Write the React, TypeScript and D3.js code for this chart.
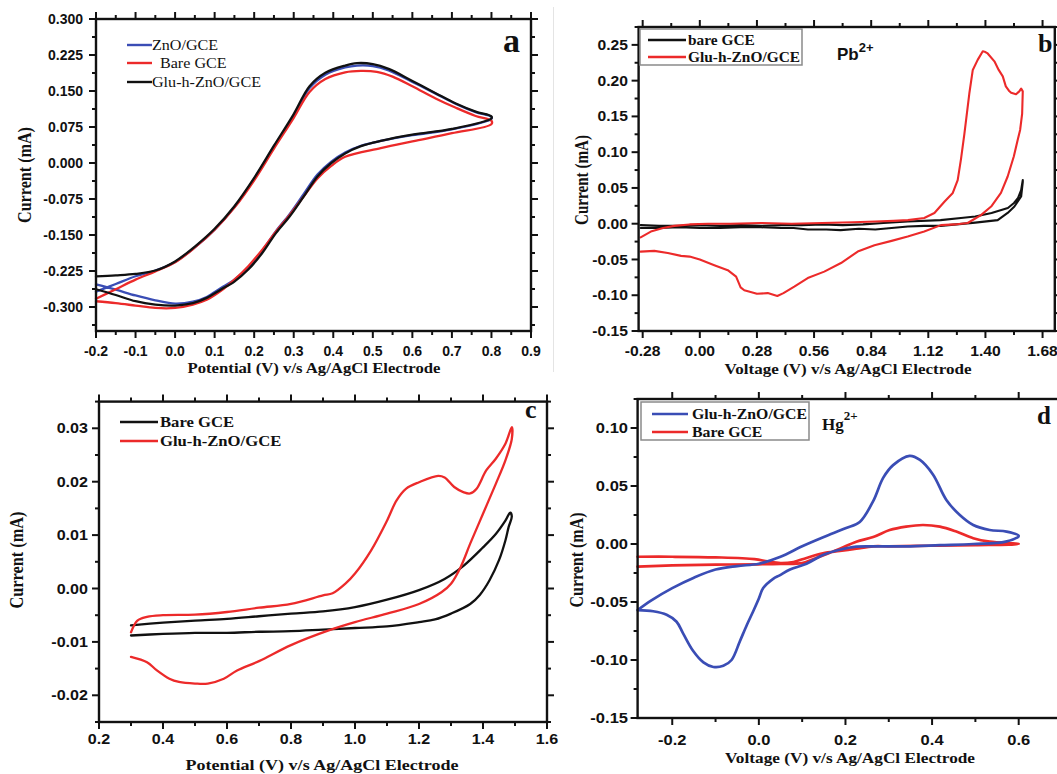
import React from 'react';
import * as d3 from 'd3';

type P = [number, number];

// ---------------- Panel a ----------------
const aXTicks = [-0.2, -0.1, 0, 0.1, 0.2, 0.3, 0.4, 0.5, 0.6, 0.7, 0.8, 0.9];
const aXLabels = ['-0.2', '-0.1', '0.0', '0.1', '0.2', '0.3', '0.4', '0.5', '0.6', '0.7', '0.8', '0.9'];
const aYTicks = [-0.3, -0.225, -0.15, -0.075, 0, 0.075, 0.15, 0.225, 0.3];
const aYLabels = ['-0.300', '-0.225', '-0.150', '-0.075', '0.000', '0.075', '0.150', '0.225', '0.300'];

const aZnO: P[] = [
  [-0.2, -0.268], [-0.15, -0.252], [-0.1, -0.236], [-0.05, -0.224], [0.0, -0.206], [0.05, -0.176], [0.1, -0.139],
  [0.15, -0.092], [0.2, -0.033], [0.25, 0.034], [0.3, 0.099], [0.34, 0.156], [0.38, 0.184], [0.43, 0.199],
  [0.46, 0.203], [0.5, 0.202], [0.54, 0.193], [0.6, 0.169], [0.66, 0.144], [0.71, 0.123], [0.76, 0.106], [0.8, 0.096],
  [0.8, 0.092], [0.7, 0.070], [0.6, 0.058], [0.52, 0.046], [0.47, 0.036], [0.43, 0.022], [0.395, 0.003],
  [0.36, -0.024], [0.325, -0.065], [0.29, -0.106], [0.255, -0.142], [0.22, -0.183], [0.185, -0.218], [0.15, -0.243],
  [0.115, -0.261], [0.08, -0.279], [0.045, -0.289], [0.0, -0.293], [-0.05, -0.286], [-0.1, -0.276], [-0.15, -0.264],
  [-0.2, -0.253],
];
const aBare: P[] = [
  [-0.2, -0.283], [-0.15, -0.263], [-0.1, -0.243], [-0.05, -0.226], [0.0, -0.207], [0.05, -0.176], [0.1, -0.139],
  [0.15, -0.093], [0.2, -0.036], [0.25, 0.030], [0.3, 0.094], [0.34, 0.148], [0.38, 0.175], [0.43, 0.189],
  [0.47, 0.192], [0.51, 0.190], [0.55, 0.180], [0.6, 0.160], [0.66, 0.134], [0.71, 0.115], [0.76, 0.098], [0.8, 0.088],
  [0.8, 0.081], [0.7, 0.062], [0.6, 0.045], [0.52, 0.031], [0.43, 0.013], [0.395, -0.006], [0.36, -0.032],
  [0.325, -0.070], [0.29, -0.108], [0.255, -0.143], [0.22, -0.181], [0.185, -0.215], [0.15, -0.243], [0.115, -0.267],
  [0.08, -0.285], [0.045, -0.295], [0.0, -0.302], [-0.05, -0.302], [-0.1, -0.297], [-0.15, -0.292], [-0.2, -0.288],
];
const aGlu: P[] = [
  [-0.2, -0.236], [-0.15, -0.234], [-0.1, -0.231], [-0.05, -0.224], [0.0, -0.205], [0.05, -0.174], [0.1, -0.137],
  [0.15, -0.090], [0.2, -0.031], [0.25, 0.036], [0.3, 0.102], [0.34, 0.160], [0.38, 0.188], [0.43, 0.203],
  [0.46, 0.208], [0.5, 0.206], [0.54, 0.196], [0.6, 0.171], [0.66, 0.145], [0.71, 0.124], [0.76, 0.107], [0.8, 0.097],
  [0.8, 0.093], [0.7, 0.071], [0.6, 0.059], [0.52, 0.046], [0.47, 0.035], [0.43, 0.020], [0.395, 0.0],
  [0.36, -0.028], [0.325, -0.070], [0.29, -0.111], [0.255, -0.146], [0.22, -0.188], [0.185, -0.222], [0.15, -0.247],
  [0.115, -0.264], [0.08, -0.281], [0.045, -0.292], [0.0, -0.297], [-0.05, -0.295], [-0.1, -0.288], [-0.15, -0.275],
  [-0.2, -0.263],
];

// ---------------- Panel b ----------------
const bXTicks = [-0.28, 0, 0.28, 0.56, 0.84, 1.12, 1.4, 1.68];
const bXLabels = ['-0.28', '0.00', '0.28', '0.56', '0.84', '1.12', '1.40', '1.68'];
const bYTicks = [-0.15, -0.1, -0.05, 0, 0.05, 0.1, 0.15, 0.2, 0.25];
const bYLabels = ['-0.15', '-0.10', '-0.05', '0.00', '0.05', '0.10', '0.15', '0.20', '0.25'];

const bBare: P[] = [
  [-0.29, -0.002], [-0.2, -0.003], [-0.1, -0.003], [0.0, -0.002], [0.1, -0.003], [0.2, -0.002], [0.3, -0.003],
  [0.4, -0.002], [0.5, -0.002], [0.6, -0.001], [0.7, -0.002], [0.8, -0.001], [0.9, 0.001], [1.02, 0.003],
  [1.18, 0.005], [1.28, 0.008], [1.35, 0.010], [1.43, 0.015], [1.51, 0.022], [1.54, 0.029], [1.56, 0.036],
  [1.575, 0.047], [1.583, 0.061],
  [1.583, 0.058], [1.575, 0.038], [1.542, 0.024], [1.509, 0.015], [1.46, 0.005], [1.35, 0.0015], [1.18, -0.003],
  [1.1, -0.003], [1.02, -0.004], [0.94, -0.006], [0.86, -0.008], [0.78, -0.007], [0.69, -0.009], [0.62, -0.008],
  [0.53, -0.008], [0.46, -0.006], [0.4, -0.006], [0.3, -0.005], [0.2, -0.005], [0.1, -0.006], [0.0, -0.006],
  [-0.1, -0.005], [-0.2, -0.006], [-0.29, -0.006],
];
const bGlu: P[] = [
  [-0.29, -0.019], [-0.24, -0.011], [-0.18, -0.006], [-0.125, -0.003], [-0.05, -0.001], [0.04, 0.0], [0.15, 0.0],
  [0.3, 0.001], [0.45, 0.0], [0.6, 0.001], [0.75, 0.002], [0.86, 0.003], [0.95, 0.004], [1.02, 0.005], [1.1, 0.008],
  [1.15, 0.015], [1.2, 0.031], [1.24, 0.043], [1.264, 0.061], [1.28, 0.09], [1.297, 0.126], [1.321, 0.182],
  [1.338, 0.215], [1.362, 0.229], [1.387, 0.241], [1.4, 0.24], [1.411, 0.238], [1.444, 0.227], [1.465, 0.215],
  [1.485, 0.206], [1.5, 0.192], [1.515, 0.186], [1.526, 0.183], [1.55, 0.181], [1.566, 0.185], [1.575, 0.189],
  [1.583, 0.185],
  [1.58, 0.154], [1.57, 0.131], [1.558, 0.117], [1.539, 0.094], [1.509, 0.066], [1.476, 0.043], [1.428, 0.024],
  [1.378, 0.012], [1.313, 0.001], [1.25, -0.001], [1.182, -0.002], [1.1, -0.011], [1.019, -0.018], [0.94, -0.024],
  [0.856, -0.030], [0.774, -0.039], [0.692, -0.055], [0.61, -0.067], [0.529, -0.076], [0.463, -0.088],
  [0.41, -0.097], [0.38, -0.101], [0.333, -0.097], [0.28, -0.098], [0.218, -0.093], [0.2, -0.089], [0.178, -0.074],
  [0.137, -0.065], [0.071, -0.058], [0.0, -0.050], [-0.05, -0.046], [-0.092, -0.045], [-0.157, -0.041],
  [-0.223, -0.038], [-0.29, -0.039],
];

// ---------------- Panel c ----------------
const cXTicks = [0.2, 0.4, 0.6, 0.8, 1.0, 1.2, 1.4, 1.6];
const cXLabels = ['0.2', '0.4', '0.6', '0.8', '1.0', '1.2', '1.4', '1.6'];
const cYTicks = [-0.02, -0.01, 0, 0.01, 0.02, 0.03];
const cYLabels = ['-0.02', '-0.01', '0.00', '0.01', '0.02', '0.03'];

const cBare: P[] = [
  [0.3, -0.0069], [0.4, -0.0064], [0.5, -0.006], [0.6, -0.0057], [0.7, -0.0052], [0.8, -0.0047], [0.9, -0.0043],
  [1.0, -0.0035], [1.1, -0.0021], [1.2, -0.0003], [1.28, 0.0018], [1.34, 0.0043], [1.4, 0.0077], [1.44, 0.0102],
  [1.47, 0.0127], [1.485, 0.0142],
  [1.49, 0.0135], [1.48, 0.0115], [1.47, 0.009], [1.45, 0.0053], [1.42, 0.0015], [1.39, -0.0012], [1.36, -0.0029],
  [1.3, -0.0047], [1.25, -0.0058], [1.2, -0.0063], [1.1, -0.0071], [1.0, -0.0074], [0.9, -0.0077], [0.8, -0.008],
  [0.7, -0.0081], [0.6, -0.0083], [0.5, -0.0083], [0.4, -0.0085], [0.3, -0.0088],
];
const cGlu: P[] = [
  [0.3, -0.0082], [0.32, -0.006], [0.35, -0.0053], [0.4, -0.005], [0.5, -0.0049], [0.6, -0.0044], [0.7, -0.0036],
  [0.8, -0.0029], [0.9, -0.0013], [0.93, -0.0009], [0.97, 0.0009], [1.0, 0.0028], [1.05, 0.0071], [1.1, 0.0127],
  [1.13, 0.0165], [1.16, 0.0187], [1.2, 0.0199], [1.26, 0.0211], [1.28, 0.0208], [1.31, 0.019], [1.34, 0.018],
  [1.36, 0.0178], [1.38, 0.0187], [1.41, 0.0221], [1.44, 0.0243], [1.47, 0.0271], [1.49, 0.0302],
  [1.49, 0.028], [1.47, 0.024], [1.44, 0.0196], [1.4, 0.014], [1.36, 0.0084], [1.33, 0.004], [1.3, 0.0009],
  [1.27, -0.0007], [1.2, -0.0029], [1.1, -0.0047], [1.0, -0.0063], [0.92, -0.0078], [0.8, -0.0106], [0.7, -0.0136],
  [0.63, -0.0154], [0.59, -0.0169], [0.54, -0.0178], [0.5, -0.0178], [0.45, -0.0175], [0.42, -0.0169],
  [0.38, -0.0153], [0.35, -0.0138], [0.3, -0.0128],
];

// ---------------- Panel d ----------------
const dXTicks = [-0.2, 0, 0.2, 0.4, 0.6];
const dXLabels = ['-0.2', '0.0', '0.2', '0.4', '0.6'];
const dYTicks = [-0.15, -0.1, -0.05, 0, 0.05, 0.1];
const dYLabels = ['-0.15', '-0.10', '-0.05', '0.00', '0.05', '0.10'];

const dGlu: P[] = [
  [-0.28, -0.057], [-0.25, -0.049], [-0.2, -0.038], [-0.15, -0.029], [-0.1, -0.022], [-0.05, -0.019], [0.0, -0.017],
  [0.05, -0.011], [0.1, -0.002], [0.15, 0.006], [0.2, 0.0135], [0.233, 0.019], [0.264, 0.037], [0.287, 0.057],
  [0.31, 0.068], [0.348, 0.076], [0.372, 0.0725], [0.402, 0.06], [0.433, 0.038], [0.464, 0.025], [0.495, 0.0164],
  [0.533, 0.0121], [0.572, 0.0107], [0.6, 0.007],
  [0.57, 0.002], [0.495, 0.0], [0.418, -0.001], [0.34, -0.002], [0.264, -0.002], [0.225, -0.0023], [0.187, -0.005],
  [0.148, -0.0095], [0.11, -0.017], [0.072, -0.022], [0.048, -0.027], [0.033, -0.030], [0.01, -0.038],
  [0.0, -0.047], [-0.013, -0.058], [-0.028, -0.070], [-0.044, -0.084], [-0.063, -0.100], [-0.082, -0.105],
  [-0.105, -0.106], [-0.128, -0.102], [-0.152, -0.092], [-0.175, -0.077], [-0.19, -0.067], [-0.213, -0.061],
  [-0.244, -0.058], [-0.28, -0.057],
];
const dBare: P[] = [
  [-0.28, -0.0195], [-0.2, -0.0185], [-0.1, -0.0178], [0.0, -0.0175], [0.05, -0.0172], [0.1, -0.0165],
  [0.133, -0.012], [0.187, -0.004], [0.225, 0.002], [0.264, 0.006], [0.302, 0.012], [0.34, 0.015], [0.379, 0.0164],
  [0.418, 0.015], [0.456, 0.0107], [0.495, 0.005], [0.533, 0.002], [0.6, 0.0],
  [0.5, -0.001], [0.4, -0.0015], [0.3, -0.002], [0.264, -0.002], [0.225, -0.004], [0.187, -0.006],
  [0.148, -0.008], [0.11, -0.012], [0.08, -0.0155], [0.05, -0.0165], [0.02, -0.015], [-0.01, -0.013],
  [-0.1, -0.0115], [-0.2, -0.011], [-0.28, -0.011],
];

// ---------------- styles ----------------
const BLUE = '#3a4db5';
const RED = '#ec2a2a';
const BLACK = '#111111';
const SANS = '"Liberation Sans", Arial, sans-serif';
const SERIF = '"Liberation Serif", "Times New Roman", serif';

interface Series { data: P[]; color: string; width: number; }
interface LegendItem { label: string; color: string; }
interface Cfg {
  left: number; right: number; top: number; bottom: number;
  xDomain: [number, number]; yDomain: [number, number];
  xTicks: number[]; xLabels: string[]; yTicks: number[]; yLabels: string[];
  series: Series[]; curve: d3.CurveFactory;
  tickSize: number; tickSx: number; xLabelBase: number; yLabelRight: number;
  xTitle: string; xTitleX: number; xTitleY: number; xTitleLen: number;
  yTitleX: number; yTitleY: number; yTitleLen: number;
  legend: LegendItem[]; legX1: number; legX2: number; legTextX: number[]; legRows: number[];
  legSize: number; legSx: number; legWeight: string;
  legBox?: [number, number, number, number];
  tag: string; tagX: number; tagY: number; tagSize: number;
}

function minors(major: number[], dom: [number, number]) {
  const step = major[1] - major[0];
  const res: number[] = [];
  for (let i = 0; i < major.length - 1; i++) res.push((major[i] + major[i + 1]) / 2);
  const lo = major[0] - step / 2;
  if (lo >= dom[0] - 1e-9) res.push(lo);
  const hi = major[major.length - 1] + step / 2;
  if (hi <= dom[1] + 1e-9) res.push(hi);
  return res;
}

function Panel({ c }: { c: Cfg }) {
  const x = d3.scaleLinear().domain(c.xDomain).range([c.left, c.right]);
  const y = d3.scaleLinear().domain(c.yDomain).range([c.bottom, c.top]);
  const line = d3.line<P>().x(d => x(d[0])).y(d => y(d[1])).curve(c.curve);
  const xm = minors(c.xTicks, c.xDomain);
  const ym = minors(c.yTicks, c.yDomain);
  const M = 7, m = 4;
  const tickStyle = { stroke: BLACK, strokeWidth: 2 };
  return (
    <g>
      {c.series.map((s, i) => (
        <path key={i} d={line(s.data) || ''} fill="none" stroke={s.color} strokeWidth={s.width}
          strokeLinejoin="round" strokeLinecap="round" />
      ))}
      {c.xTicks.map((t, i) => (
        <g key={'xt' + i}>
          <line x1={x(t)} x2={x(t)} y1={c.bottom} y2={c.bottom + M} {...tickStyle} />
          <line x1={x(t)} x2={x(t)} y1={c.top} y2={c.top - M} {...tickStyle} />
        </g>
      ))}
      {xm.map((t, i) => (
        <g key={'xm' + i}>
          <line x1={x(t)} x2={x(t)} y1={c.bottom} y2={c.bottom + m} {...tickStyle} />
          <line x1={x(t)} x2={x(t)} y1={c.top} y2={c.top - m} {...tickStyle} />
        </g>
      ))}
      {c.yTicks.map((t, i) => (
        <g key={'yt' + i}>
          <line x1={c.left} x2={c.left - M} y1={y(t)} y2={y(t)} {...tickStyle} />
          <line x1={c.right} x2={c.right + M} y1={y(t)} y2={y(t)} {...tickStyle} />
        </g>
      ))}
      {ym.map((t, i) => (
        <g key={'ym' + i}>
          <line x1={c.left} x2={c.left - m} y1={y(t)} y2={y(t)} {...tickStyle} />
          <line x1={c.right} x2={c.right + m} y1={y(t)} y2={y(t)} {...tickStyle} />
        </g>
      ))}
      <rect x={c.left} y={c.top} width={c.right - c.left} height={c.bottom - c.top}
        fill="none" stroke={BLACK} strokeWidth={2.4} />
      {c.xTicks.map((t, i) => (
        <text key={'xl' + i} transform={`translate(${x(t)},${c.xLabelBase}) scale(${c.tickSx},1)`}
          textAnchor="middle" fontFamily={SANS} fontWeight="bold" fontSize={c.tickSize} fill={BLACK}>
          {c.xLabels[i]}
        </text>
      ))}
      {c.yTicks.map((t, i) => (
        <text key={'yl' + i} transform={`translate(${c.yLabelRight},${y(t) + c.tickSize * 0.36}) scale(${c.tickSx},1)`}
          textAnchor="end" fontFamily={SANS} fontWeight="bold" fontSize={c.tickSize} fill={BLACK}>
          {c.yLabels[i]}
        </text>
      ))}
      <text x={c.xTitleX} y={c.xTitleY} textAnchor="middle" fontFamily={SERIF} fontWeight="bold" fontSize={15}
        textLength={c.xTitleLen} lengthAdjust="spacingAndGlyphs" fill={BLACK}>{c.xTitle}</text>
      <text transform={`translate(${c.yTitleX},${c.yTitleY}) scale(1.25,1) rotate(-90)`} textAnchor="middle"
        fontFamily={SERIF} fontWeight="bold" fontSize={15.5} textLength={c.yTitleLen} lengthAdjust="spacingAndGlyphs"
        fill={BLACK}>Current (mA)</text>
      {c.legBox && (
        <rect x={c.legBox[0]} y={c.legBox[1]} width={c.legBox[2] - c.legBox[0]} height={c.legBox[3] - c.legBox[1]}
          fill="none" stroke="#8a8a8a" strokeWidth={1.5} />
      )}
      {c.legend.map((l, i) => (
        <g key={'lg' + i}>
          <line x1={c.legX1} x2={c.legX2} y1={c.legRows[i]} y2={c.legRows[i]} stroke={l.color} strokeWidth={2.4} />
          <text transform={`translate(${c.legTextX[i]},${c.legRows[i] + c.legSize * 0.34}) scale(${c.legSx},1)`}
            fontFamily={SERIF} fontWeight={c.legWeight} fontSize={c.legSize} fill={BLACK}>{l.label}</text>
        </g>
      ))}
      <text x={c.tagX} y={c.tagY} fontFamily={SERIF} fontWeight="bold" fontSize={c.tagSize} fill={BLACK}>{c.tag}</text>
    </g>
  );
}

const panelA: Cfg = {
  left: 96, right: 531, top: 19, bottom: 331,
  xDomain: [-0.2, 0.9], yDomain: [-0.35, 0.3],
  xTicks: aXTicks, xLabels: aXLabels, yTicks: aYTicks, yLabels: aYLabels,
  series: [
    { data: aZnO, color: BLUE, width: 2.3 },
    { data: aBare, color: RED, width: 2.3 },
    { data: aGlu, color: BLACK, width: 2.3 },
  ],
  curve: d3.curveCatmullRom.alpha(0.5),
  tickSize: 14, tickSx: 1.0, xLabelBase: 356, yLabelRight: 83,
  xTitle: 'Potential (V) v/s Ag/AgCl Electrode', xTitleX: 314, xTitleY: 373, xTitleLen: 253,
  yTitleX: 31, yTitleY: 175, yTitleLen: 96,
  legend: [
    { label: 'ZnO/GCE', color: BLUE },
    { label: 'Bare GCE', color: RED },
    { label: 'Glu-h-ZnO/GCE', color: BLACK },
  ],
  legX1: 127, legX2: 152, legTextX: [152, 160, 152], legRows: [45, 63, 82],
  legSize: 14, legSx: 1.15, legWeight: 'normal',
  tag: 'a', tagX: 503, tagY: 52, tagSize: 34,
};

const panelB: Cfg = {
  left: 638.6, right: 1054.8, top: 27, bottom: 331,
  xDomain: [-0.3, 1.74], yDomain: [-0.15, 0.275],
  xTicks: bXTicks, xLabels: bXLabels, yTicks: bYTicks, yLabels: bYLabels,
  series: [
    { data: bBare, color: BLACK, width: 2.1 },
    { data: bGlu, color: RED, width: 2.1 },
  ],
  curve: d3.curveLinear,
  tickSize: 14, tickSx: 1.12, xLabelBase: 356, yLabelRight: 628,
  xTitle: 'Voltage (V) v/s Ag/AgCl Electrode', xTitleX: 848, xTitleY: 374, xTitleLen: 247,
  yTitleX: 588, yTitleY: 180, yTitleLen: 90,
  legend: [
    { label: 'bare GCE', color: BLACK },
    { label: 'Glu-h-ZnO/GCE', color: RED },
  ],
  legX1: 648, legX2: 686, legTextX: [688, 688], legRows: [40, 57],
  legSize: 14, legSx: 1.1, legWeight: 'bold', legBox: [640, 29, 802, 65],
  tag: 'b', tagX: 1038, tagY: 52, tagSize: 26,
};

const panelC: Cfg = {
  left: 99, right: 547, top: 401.6, bottom: 722,
  xDomain: [0.2, 1.6], yDomain: [-0.025, 0.035],
  xTicks: cXTicks, xLabels: cXLabels, yTicks: cYTicks, yLabels: cYLabels,
  series: [
    { data: cBare, color: BLACK, width: 2.3 },
    { data: cGlu, color: RED, width: 2.3 },
  ],
  curve: d3.curveCatmullRom.alpha(0.5),
  tickSize: 14, tickSx: 1.15, xLabelBase: 744, yLabelRight: 88,
  xTitle: 'Potential (V) v/s Ag/AgCl Electrode', xTitleX: 322, xTitleY: 770, xTitleLen: 273,
  yTitleX: 22.5, yTitleY: 560, yTitleLen: 97,
  legend: [
    { label: 'Bare GCE', color: BLACK },
    { label: 'Glu-h-ZnO/GCE', color: RED },
  ],
  legX1: 120, legX2: 158, legTextX: [160, 160], legRows: [422, 441],
  legSize: 14.5, legSx: 1.15, legWeight: 'bold',
  tag: 'c', tagX: 525, tagY: 418, tagSize: 26,
};

const panelD: Cfg = {
  left: 637.6, right: 1062, top: 399, bottom: 718,
  xDomain: [-0.28, 0.7], yDomain: [-0.15, 0.125],
  xTicks: dXTicks, xLabels: dXLabels, yTicks: dYTicks, yLabels: dYLabels,
  series: [
    { data: dBare, color: RED, width: 2.7 },
    { data: dGlu, color: BLUE, width: 2.7 },
  ],
  curve: d3.curveCatmullRom.alpha(0.5),
  tickSize: 14, tickSx: 1.18, xLabelBase: 745, yLabelRight: 628,
  xTitle: 'Voltage (V) v/s Ag/AgCl Electrode', xTitleX: 850, xTitleY: 763, xTitleLen: 250,
  yTitleX: 583, yTitleY: 560, yTitleLen: 95,
  legend: [
    { label: 'Glu-h-ZnO/GCE', color: BLUE },
    { label: 'Bare GCE', color: RED },
  ],
  legX1: 652, legX2: 688, legTextX: [692, 692], legRows: [414, 432],
  legSize: 14, legSx: 1.13, legWeight: 'bold', legBox: [641, 402, 809, 440],
  tag: 'd', tagX: 1037, tagY: 424, tagSize: 25,
};

export default function App() {
  return (
    <svg width={1057} height={774} viewBox="0 0 1057 774"
      style={{ position: 'absolute', left: 0, top: 0, background: '#ffffff' }}>
      <rect x={0} y={0} width={1057} height={774} fill="#ffffff" />
      <line x1={553.5} x2={553.5} y1={7} y2={372} stroke="#e4e4e4" strokeWidth={1} />
      <Panel c={panelA} />
      <Panel c={panelB} />
      <Panel c={panelC} />
      <Panel c={panelD} />
      <text x={837} y={60} fontFamily={SANS} fontWeight="bold" fontSize={17} fill={BLACK}>
        Pb<tspan dy={-8} fontSize={13}>2+</tspan>
      </text>
      <text x={822} y={430} fontFamily={SERIF} fontWeight="bold" fontSize={17} fill={BLACK}>
        Hg<tspan dy={-10} fontSize={13}>2+</tspan>
      </text>
    </svg>
  );
}
